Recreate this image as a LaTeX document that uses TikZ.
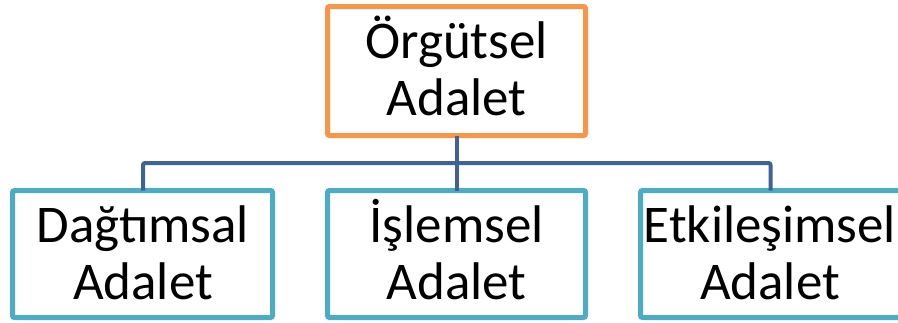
\documentclass[tikz,border=0pt]{standalone}
\usepackage{fontspec}
\setmainfont{Carlito}
\definecolor{rootline}{HTML}{F79646}
\definecolor{leafline}{HTML}{4BACC6}
\definecolor{linkline}{HTML}{3E6497}
\begin{document}
\begin{tikzpicture}[x=1pt,y=-1pt,
  box/.style={draw, line width=5pt, rounded corners=2pt, fill=white,
    minimum width=258pt, minimum height=129pt, inner sep=0pt, outer sep=0pt},
  rootbox/.style={box, draw=rootline},
  leafbox/.style={box, draw=leafline, minimum height=127pt},
  caption/.style={anchor=base, inner sep=0pt, font=\fontsize{53}{57}\selectfont},
  link/.style={draw=linkline, line width=4pt, rounded corners=2pt}]
\useasboundingbox (0,0) rectangle (898,322);
% hierarchy boxes
\node[rootbox] (root) at (456.5,71) {};
\node[leafbox, minimum width=260pt] (dist) at (142.5,254) {};
\node[leafbox] (proc) at (456.5,254) {};
\node[leafbox, minimum width=263pt] (inter) at (772,254) {};
% connectors
\coordinate (hub) at (456.5,163);
\draw[link] (root.south) -- (hub);
\draw[link] (hub) -| ([xshift=0.5pt]dist.north);
\draw[link] (hub) -- (proc.north);
\draw[link] (hub) -| ([xshift=-1.5pt]inter.north);
% labels
\node[caption] (root1) at (456.5,58) {Örgütsel};
\node[caption] (root2) at (456.5,115) {Adalet};
\node[caption] (dist1) at (143,242) {Dağtımsal};
\node[caption] (dist2) at (143,299) {Adalet};
\node[caption] (proc1) at (456.5,242) {İşlemsel};
\node[caption] (proc2) at (456.5,299) {Adalet};
\node[caption] (inter1) at (770,242) {Etkileşimsel};
\node[caption] (inter2) at (770,299) {Adalet};
\end{tikzpicture}
\end{document}
